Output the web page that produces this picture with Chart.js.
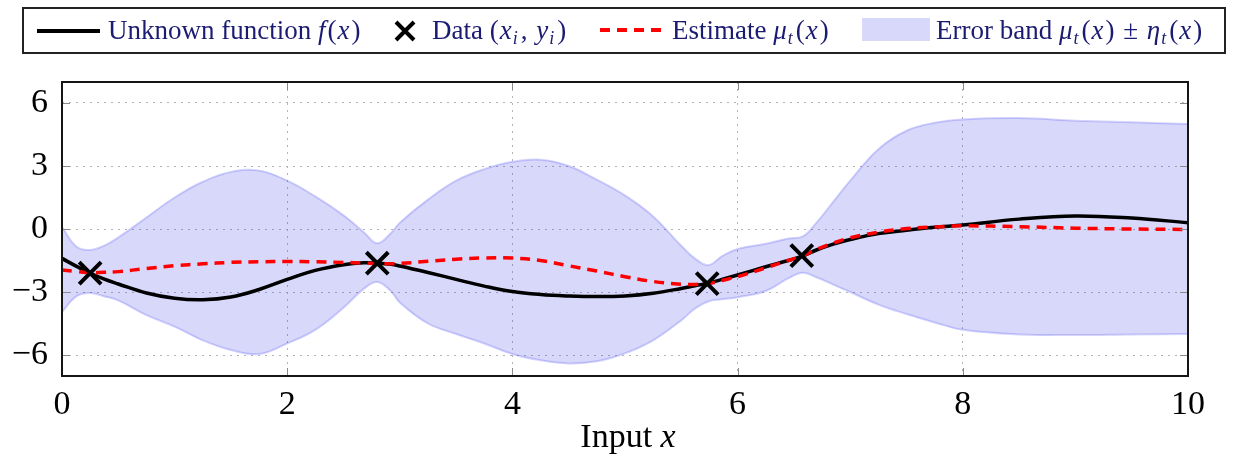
<!DOCTYPE html>
<html>
<head>
<meta charset="utf-8">
<script src="https://cdn.jsdelivr.net/npm/chart.js@4/dist/chart.umd.min.js"></script>
<style>
  html, body { margin: 0; padding: 0; background: #fff; }
  #wrap { position: relative; width: 1236px; height: 465px; }
  #legend { position: absolute; left: 22px; top: 7px; width: 1200px; height: 43px;
    border: 2px solid #222; font-family: "Liberation Serif", serif; font-size: 27px; color: #1b1b72; }
  #legend .it { position: absolute; top: 4px; white-space: nowrap; line-height: 34px; }
  #legend i { font-style: italic; padding-right: 1px; }
  #legend sub { font-size: 18px; vertical-align: -5px; line-height: 0; padding-right: 1px; }
  #legend .m { letter-spacing: 1px; }
</style>
</head>
<body>
<div id="wrap">
  <canvas id="chart" width="1236" height="465"></canvas>
  <div id="legend">
    <div class="it" style="left:13px;top:20px;width:63px;height:4px;background:#000"></div>
    <div class="it" style="left:84px">Unknown function <span class="m"><i>f</i>(<i>x</i>)</span></div>
    <svg class="it" style="left:369px;top:10px" width="24" height="24">
      <path d="M3 3 L21 21 M21 3 L3 21" stroke="#000" stroke-width="4"/>
    </svg>
    <div class="it" style="left:408px">Data <span class="m">(<i>x<sub>i</sub></i>, <i>y<sub>i</sub></i>)</span></div>
    <svg class="it" style="left:576px;top:17px" width="62" height="8">
      <line x1="0" y1="4" x2="62" y2="4" stroke="#f00" stroke-width="4" stroke-dasharray="10 7"/>
    </svg>
    <div class="it" style="left:648px">Estimate <span class="m"><i>μ<sub>t</sub></i>(<i>x</i>)</span></div>
    <div class="it" style="left:838px;top:9px;width:68px;height:23px;background:rgb(216,216,251)"></div>
    <div class="it" style="left:912px">Error band <span class="m"><i>μ<sub>t</sub></i>(<i>x</i>) ± <i>η<sub>t</sub></i>(<i>x</i>)</span></div>
  </div>
</div>
<script>
// sample positions along x (shared by all curves)
var xs = [0, 0.13, 0.25, 0.37, 0.5, 0.75, 1, 1.25, 1.5, 1.75, 2, 2.25, 2.5, 2.68, 2.8, 2.92, 3,
  3.25, 3.5, 3.75, 4, 4.25, 4.5, 4.75, 5, 5.25, 5.5, 5.62, 5.74, 5.86, 6, 6.25, 6.45, 6.58,
  6.7, 6.85, 7, 7.25, 7.5, 7.75, 8, 8.5, 9, 9.5, 10];

// unknown function f(x)
var fTrue = [-1.4, -1.78, -2.1, -2.38, -2.62, -3.05, -3.3, -3.37, -3.24, -2.88, -2.4, -1.97, -1.7, -1.61, -1.63, -1.68, -1.76,
  -2.07, -2.4, -2.72, -2.98, -3.12, -3.19, -3.22, -3.19, -3.06, -2.83, -2.7, -2.58, -2.4, -2.19, -1.8, -1.5, -1.28,
  -1.0, -0.72, -0.5, -0.22, -0.06, 0.08, 0.19, 0.47, 0.62, 0.52, 0.3];

// estimate mu_t(x)
var muEst = [-1.95, -2.02, -2.08, -2.06, -2.03, -1.88, -1.75, -1.66, -1.59, -1.56, -1.55, -1.56, -1.59, -1.62, -1.65, -1.65, -1.64,
  -1.54, -1.44, -1.38, -1.38, -1.5, -1.75, -2.0, -2.27, -2.5, -2.63, -2.64, -2.6, -2.45, -2.27, -1.85, -1.5, -1.28,
  -0.97, -0.67, -0.42, -0.15, 0.02, 0.1, 0.15, 0.11, 0.04, 0.0, -0.02];

// error band edges
var bandUpper = [0.1, -0.85, -1.0, -0.8, -0.4, 0.55, 1.5, 2.25, 2.72, 2.78, 2.3, 1.55, 0.65, -0.15, -0.68, -0.2, 0.3,
  1.4, 2.3, 2.85, 3.2, 3.3, 3.0, 2.35, 1.6, 0.6, -0.8, -1.4, -1.72, -1.3, -0.95, -0.7, -0.45, -0.35,
  0.3, 1.3, 2.3, 3.8, 4.68, 5.06, 5.22, 5.28, 5.16, 5.08, 5.0];
var bandLower = [-3.95, -3.2, -3.05, -3.2, -3.4, -4.1, -4.65, -5.3, -5.76, -5.95, -5.45, -4.8, -3.75, -2.85, -2.52, -2.95, -3.5,
  -4.5, -5.0, -5.45, -5.95, -6.25, -6.4, -6.3, -5.92, -5.3, -4.35, -3.8, -3.45, -3.35, -3.25, -2.95, -2.35, -2.08,
  -2.3, -2.65, -3.0, -3.6, -4.05, -4.45, -4.8, -5.02, -5.05, -5.02, -5.0];

// observed data (x_i, y_i)
var dataX = [0.25, 2.8, 5.73, 6.57];
var dataY = [-2.1, -1.63, -2.6, -1.27];

var xTicks = [0, 2, 4, 6, 8, 10];
var yTicks = [-6, -3, 0, 3, 6];

function pts(xv, yv) {
  return xv.map(function (x, i) { return { x: x, y: yv[i] }; });
}

var serif = "'Liberation Serif', 'Times New Roman', serif";

var frame = {
  id: 'frame',
  afterDatasetsDraw: function (chart) {
    var ctx = chart.ctx, a = chart.chartArea, sx = chart.scales.x, sy = chart.scales.y;
    ctx.save();
    ctx.strokeStyle = '#8a8a8a';
    ctx.lineWidth = 1;
    ctx.beginPath();
    xTicks.forEach(function (v) {
      var p = Math.round(sx.getPixelForValue(v)) + 0.5;
      ctx.moveTo(p, a.bottom); ctx.lineTo(p, a.bottom - 8);
      ctx.moveTo(p, a.top); ctx.lineTo(p, a.top + 8);
    });
    yTicks.forEach(function (v) {
      var p = Math.round(sy.getPixelForValue(v)) + 0.5;
      ctx.moveTo(a.left, p); ctx.lineTo(a.left + 8, p);
      ctx.moveTo(a.right, p); ctx.lineTo(a.right - 8, p);
    });
    ctx.stroke();
    ctx.strokeStyle = '#151515';
    ctx.lineWidth = 2;
    ctx.strokeRect(a.left, a.top, a.right - a.left, a.bottom - a.top);

    // axis title "Input x"
    ctx.fillStyle = '#000';
    ctx.textBaseline = 'alphabetic';
    ctx.font = '34px ' + serif;
    var w1 = ctx.measureText('Input ').width;
    ctx.font = 'italic 34px ' + serif;
    var w2 = ctx.measureText('x').width;
    var cx = (a.left + a.right) / 2 + 3;
    var x0 = cx - (w1 + w2) / 2;
    ctx.font = '34px ' + serif;
    ctx.textAlign = 'left';
    ctx.fillText('Input ', x0, 447);
    ctx.font = 'italic 34px ' + serif;
    ctx.fillText('x', x0 + w1, 447);
    ctx.restore();
  }
};

new Chart(document.getElementById('chart'), {
  type: 'line',
  data: {
    datasets: [
      {
        label: 'upper',
        data: pts(xs, bandUpper),
        borderColor: 'rgba(60,60,240,0.22)',
        borderWidth: 2,
        pointRadius: 0,
        fill: false,
        tension: 0.4,
        order: 3
      },
      {
        label: 'Error band',
        data: pts(xs, bandLower),
        borderColor: 'rgba(60,60,240,0.22)',
        backgroundColor: 'rgba(40,40,235,0.18)',
        borderWidth: 2,
        pointRadius: 0,
        fill: '-1',
        tension: 0.4,
        order: 4
      },
      {
        label: 'Unknown function',
        data: pts(xs, fTrue),
        borderColor: '#000',
        borderWidth: 3.5,
        pointRadius: 0,
        fill: false,
        tension: 0.4,
        order: 2
      },
      {
        label: 'Estimate',
        data: pts(xs, muEst),
        borderColor: '#ff0000',
        borderWidth: 3.5,
        borderDash: [10, 7],
        pointRadius: 0,
        fill: false,
        tension: 0.4,
        order: 1
      },
      {
        label: 'Data',
        data: pts(dataX, dataY),
        showLine: false,
        pointStyle: 'crossRot',
        pointRadius: 15.5,
        pointBorderWidth: 4,
        pointBorderColor: '#000',
        pointBackgroundColor: '#000',
        order: 0
      }
    ]
  },
  options: {
    responsive: false,
    animation: false,
    layout: { padding: { top: 82, right: 48, left: 0, bottom: 0 } },
    plugins: { legend: { display: false }, tooltip: { enabled: false } },
    scales: {
      x: {
        type: 'linear',
        min: 0, max: 10,
        afterFit: function (s) { s.height = 89; },
        afterBuildTicks: function (s) { s.ticks = xTicks.map(function (v) { return { value: v }; }); },
        grid: { color: '#b4b4b4', lineWidth: 1, drawTicks: false },
        border: { display: false, dash: [2, 5] },
        ticks: {
          padding: 9,
          color: '#000',
          maxRotation: 0,
          font: { family: serif, size: 34 },
          callback: function (v) { return String(v); }
        }
      },
      y: {
        min: -7, max: 7,
        afterFit: function (s) { s.width = 62; },
        afterBuildTicks: function (s) { s.ticks = yTicks.map(function (v) { return { value: v }; }); },
        grid: { color: '#b4b4b4', lineWidth: 1, drawTicks: false },
        border: { display: false, dash: [2, 5] },
        ticks: {
          padding: 14,
          color: '#000',
          font: { family: serif, size: 34 },
          callback: function (v) { return String(v).replace('-', '\u2212'); }
        }
      }
    }
  },
  plugins: [frame]
});
</script>
</body>
</html>
